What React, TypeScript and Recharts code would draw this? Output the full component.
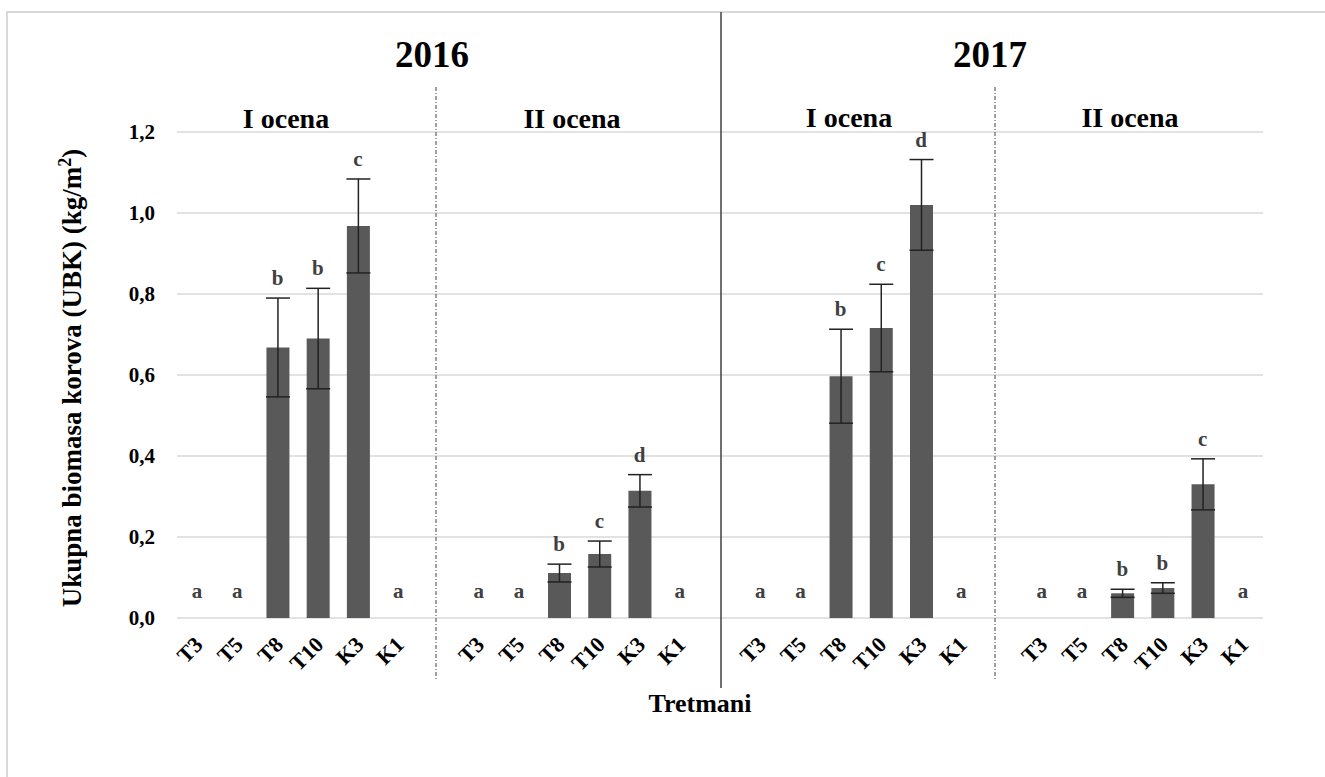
import React from "react";
import {
  ComposedChart, Bar, Line, XAxis, YAxis, CartesianGrid, ErrorBar, LabelList,
} from "recharts";

const FONT = "'Liberation Serif', 'Times New Roman', serif";

const treatments = ["T3", "T5", "T8", "T10", "K3", "K1"];

// 2016 - I ocena
const mean2016I = [0, 0, 0.668, 0.69, 0.968, 0];
const err2016I = [0, 0, 0.122, 0.124, 0.116, 0];
const letters2016I = ["a", "a", "b", "b", "c", "a"];

// 2016 - II ocena
const mean2016II = [0, 0, 0.111, 0.158, 0.314, 0];
const err2016II = [0, 0, 0.022, 0.032, 0.04, 0];
const letters2016II = ["a", "a", "b", "c", "d", "a"];

// 2017 - I ocena
const mean2017I = [0, 0, 0.597, 0.716, 1.02, 0];
const err2017I = [0, 0, 0.116, 0.108, 0.112, 0];
const letters2017I = ["a", "a", "b", "c", "d", "a"];

// 2017 - II ocena
const mean2017II = [0, 0, 0.061, 0.074, 0.33, 0];
const err2017II = [0, 0, 0.01, 0.013, 0.063, 0];
const letters2017II = ["a", "a", "b", "b", "c", "a"];

const yTicks = [0, 0.2, 0.4, 0.6, 0.8, 1.0, 1.2];

const groups = [
  { mean: mean2016I, err: err2016I, letters: letters2016I },
  { mean: mean2016II, err: err2016II, letters: letters2016II },
  { mean: mean2017I, err: err2017I, letters: letters2017I },
  { mean: mean2017II, err: err2017II, letters: letters2017II },
];

// one empty category between the groups
const rows: any[] = [];
groups.forEach((g, gi) => {
  treatments.forEach((t, i) => {
    const m = g.mean[i];
    rows.push({
      name: t,
      mean: m,
      err: m > 0 ? g.err[i] : null,
      top: m > 0 ? m + g.err[i] : null,
      hiLetter: m > 0 ? g.letters[i] : null,
      base: m > 0 ? null : 0,
      loLetter: m > 0 ? null : g.letters[i],
    });
  });
  if (gi < groups.length - 1) rows.push({ name: "", mean: null });
});

const XTick = ({ x, y, payload }: any) => {
  const tx = x + 7;
  const ty = y + 28;
  return (
    <text
      x={tx}
      y={ty}
      transform={`rotate(-45, ${tx}, ${ty})`}
      textAnchor="end"
      fontSize={22}
      fontWeight="bold"
      fill="#000"
      fontFamily={FONT}
    >
      {payload.value}
    </text>
  );
};

const letterStyle = { fontSize: 21, fontWeight: "bold", fill: "#404040", fontFamily: FONT };

export default function App() {
  return (
    <div style={{ position: "absolute", left: 0, top: 0, width: 1325, height: 777, background: "#fff" }}>
      <ComposedChart
        width={1325}
        height={777}
        data={rows}
        margin={{ top: 132, right: 62, bottom: 99, left: 117 }}
      >
        <CartesianGrid vertical={false} stroke="#d9d9d9" strokeWidth={1.5} />
        <XAxis
          dataKey="name"
          interval={0}
          height={60}
          axisLine={false}
          tickLine={false}
          tickSize={0}
          tickMargin={0}
          tick={<XTick />}
        />
        <YAxis
          domain={[0, 1.2]}
          ticks={yTicks}
          width={60}
          axisLine={false}
          tickLine={false}
          tickSize={0}
          tickMargin={22}
          tickFormatter={(v: number) => v.toFixed(1).replace(".", ",")}
          tick={{ fontSize: 21, fontWeight: "bold", fill: "#000", fontFamily: FONT }}
        />
        <Bar dataKey="mean" fill="#595959" barSize={23} isAnimationActive={false}>
          <ErrorBar dataKey="err" width={12} strokeWidth={1.5} stroke="#222" direction="y" />
        </Bar>
        <Line dataKey="top" stroke="none" dot={false} activeDot={false} isAnimationActive={false}>
          <LabelList dataKey="hiLetter" position="top" offset={13} {...letterStyle} />
        </Line>
        <Line dataKey="base" stroke="none" dot={false} activeDot={false} isAnimationActive={false}>
          <LabelList dataKey="loLetter" position="top" offset={20} {...letterStyle} />
        </Line>
      </ComposedChart>

      <svg
        width={1325}
        height={777}
        style={{ position: "absolute", left: 0, top: 0, pointerEvents: "none" }}
        fontFamily={FONT}
      >
        <rect x={7} y={12} width={1340} height={800} fill="none" stroke="#d9d9d9" strokeWidth={2} />
        <line x1={721} y1={12} x2={721} y2={688} stroke="#404040" strokeWidth={1.5} />
        <line x1={436} y1={87} x2={436} y2={679} stroke="#7f7f7f" strokeWidth={1.5} strokeDasharray="4 2 1 2" />
        <line x1={995} y1={87} x2={995} y2={679} stroke="#7f7f7f" strokeWidth={1.5} strokeDasharray="4 2 1 2" />

        <text x={432} y={67} textAnchor="middle" fontSize={37} fontWeight="bold">2016</text>
        <text x={990} y={67} textAnchor="middle" fontSize={37} fontWeight="bold">2017</text>
        <text x={286} y={128} textAnchor="middle" fontSize={28} fontWeight="bold">I ocena</text>
        <text x={572} y={128} textAnchor="middle" fontSize={28} fontWeight="bold">II ocena</text>
        <text x={849} y={127} textAnchor="middle" fontSize={28} fontWeight="bold">I ocena</text>
        <text x={1130} y={127} textAnchor="middle" fontSize={28} fontWeight="bold">II ocena</text>

        <text
          x={81}
          y={378}
          textAnchor="middle"
          fontSize={27}
          fontWeight="bold"
          transform="rotate(-90, 81, 378)"
        >
          Ukupna biomasa korova (UBK) (kg/m<tspan dy={-10} fontSize={18}>2</tspan><tspan dy={10}>)</tspan>
        </text>
        <text x={700} y={712} textAnchor="middle" fontSize={26} fontWeight="bold">Tretmani</text>
      </svg>
    </div>
  );
}
